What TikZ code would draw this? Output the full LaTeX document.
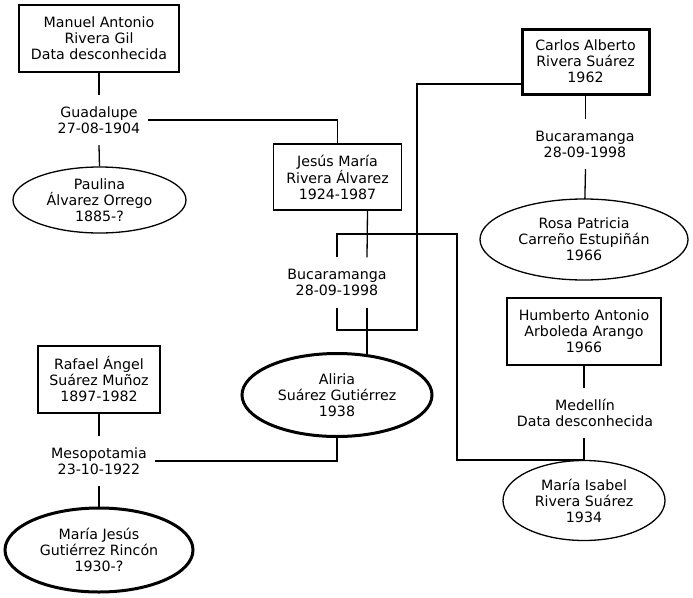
\documentclass[tikz,border=0pt]{standalone}
\usepackage{fontspec}
\setmainfont{DejaVu Sans}
\usetikzlibrary{shapes.geometric,backgrounds}
\tikzset{
  every node/.style={font=\fontsize{14.2}{16}\selectfont, align=center, inner sep=0pt},
  pbox/.style={draw, rectangle, line width=1.3pt, fill=white},
  poval/.style={draw, ellipse, line width=1.3pt, fill=white},
  bold/.style={line width=3pt},
  lbl/.style={minimum height=50pt, inner xsep=8pt},
  conn/.style={draw, line width=1.3pt},
}
\begin{document}
\begin{tikzpicture}[x=1pt,y=-1pt]
\useasboundingbox (0,0) rectangle (693,597);
% left column
\node[pbox, minimum width=160pt, minimum height=67pt] (man) at (99,38.5) {Manuel Antonio\\Rivera Gil\\Data desconhecida};
\node[lbl] (gua) at (99,120) {Guadalupe\\27-08-1904};
\node[poval, minimum width=173pt, minimum height=66pt] (pau) at (99.5,200) {Paulina\\Álvarez Orrego\\1885-?};
\node[pbox, minimum width=122pt, minimum height=67pt] (raf) at (99,379.5) {Rafael Ángel\\Suárez Muñoz\\1897-1982};
\node[lbl] (mes) at (99,461) {Mesopotamia\\23-10-1922};
\node[poval, bold, minimum width=188pt, minimum height=84pt] (mjg) at (99,550) {María Jesús\\Gutiérrez Rincón\\1930-?};
% middle column
\node[pbox, minimum width=128pt, minimum height=66pt] (jes) at (337.5,177) {Jesús María\\Rivera Álvarez\\1924-1987};
\node[lbl] (bm1) at (337,282.5) {Bucaramanga\\28-09-1998};
\node[poval, bold, minimum width=190pt, minimum height=83pt] (ali) at (337,395) {Aliria\\Suárez Gutiérrez\\1938};
% right column
\node[pbox, bold, minimum width=127pt, minimum height=65pt] (car) at (585.5,61.5) {Carlos Alberto\\Rivera Suárez\\1962};
\node[lbl] (bm2) at (585,144) {Bucaramanga\\28-09-1998};
\node[poval, minimum width=208pt, minimum height=81pt] (ros) at (584,239.5) {Rosa Patricia\\Carreño Estupiñán\\1966};
\node[pbox, minimum width=154pt, minimum height=67pt] (hum) at (584,331.5) {Humberto Antonio\\Arboleda Arango\\1966};
\node[lbl] (med) at (585,413) {Medellín\\Data desconhecida};
\node[poval, minimum width=162pt, minimum height=80pt] (mis) at (584,500.5) {María Isabel\\Rivera Suárez\\1934};
\coordinate (k1) at (457,234);
\coordinate (k2) at (417,330);
\begin{pgfonlayer}{background}
\path[conn] (man.south) -- (gua.north);
\path[conn] (gua.south) -- (pau.north);
\path[conn] (gua.east) -| (jes.north);
\path[conn] ([xshift=30pt]jes.south) -- ([xshift=30pt]bm1.north);
\path[conn] ([xshift=30pt]bm1.south) -- ([xshift=30pt]ali.center);
\path[conn] (bm1.north) |- (k1) |- (mis.north);
\path[conn] (bm1.south) |- (k2) |- ([yshift=-22.5pt]car.west);
\path[conn] (raf.south) -- (mes.north);
\path[conn] (mes.south) -- (mjg.north);
\path[conn] (mes.east) -| (ali.center);
\path[conn] (car.south) -- (car.south |- bm2.north);
\path[conn] (car.south |- bm2.south) -- (ros.center);
\path[conn] (hum.south) -- (hum.south |- med.north);
\path[conn] (hum.south |- med.south) -- (mis.center);
\end{pgfonlayer}
\end{tikzpicture}
\end{document}
